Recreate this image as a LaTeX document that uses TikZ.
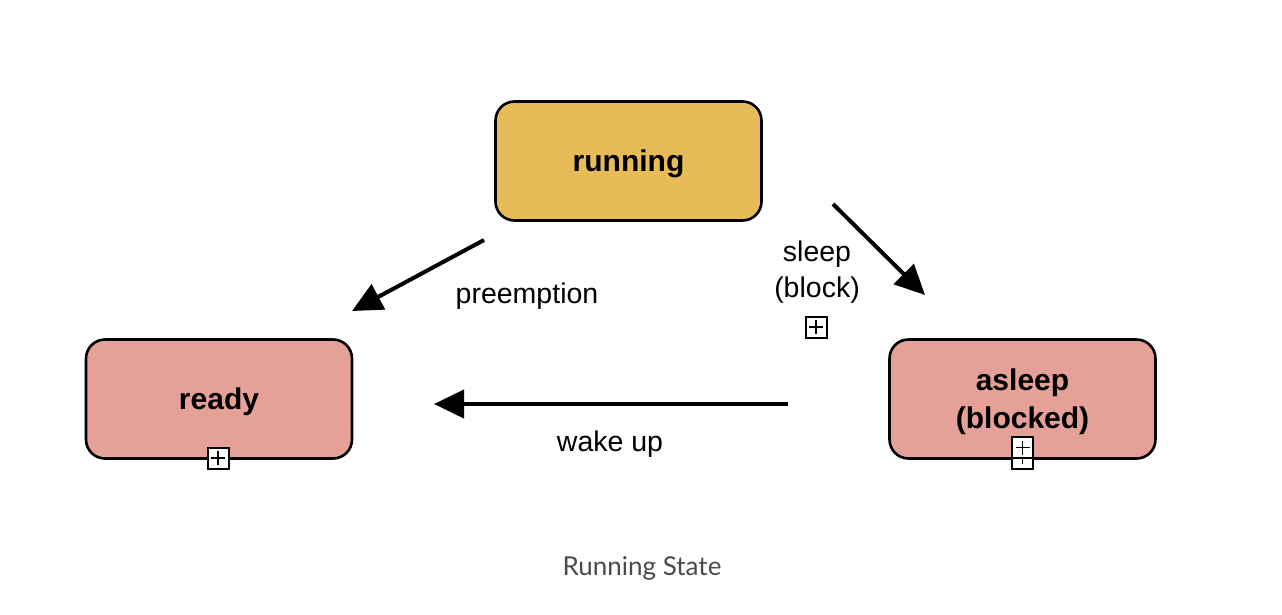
\documentclass[tikz,border=0pt]{standalone}
\usepackage{fontspec}
\setmainfont{Liberation Sans}
\newfontfamily\captionfont{Lato}
\usetikzlibrary{arrows.meta}
\definecolor{runfill}{HTML}{E6BB58}
\definecolor{statefill}{HTML}{E5A097}
\definecolor{capgray}{HTML}{4A4A4A}
\tikzset{
  statebox/.style={draw=black, line width=2.6pt, rounded corners=19pt, minimum width=266pt, minimum height=119pt, align=center, font=\fontsize{30}{38}\selectfont\bfseries, inner sep=0pt},
  oneline/.style={text height=28pt},
  conn/.style={line width=4pt, -{Triangle[length=30pt,width=28pt]}},
  lbl/.style={font=\fontsize{28.5}{36}\selectfont, align=center, inner sep=0pt},
  plusbox/.style={draw=black, line width=2pt, minimum size=21pt, inner sep=0pt, fill=white},
  plusarm/.style={line width=1.8pt},
}
\begin{document}
\begin{tikzpicture}[x=1pt,y=-1pt]
\useasboundingbox (0,0) rectangle (1282,614);
\node[statebox, oneline, fill=runfill] (running) at (628.5,161) {running};
\node[statebox, oneline, fill=statefill] (ready) at (219,399) {ready};
\node[statebox, fill=statefill] (asleep) at (1022.5,399) {\rule{0pt}{28pt}asleep\\(blocked)};

\coordinate (pA) at (484,240);
\coordinate (pB) at (352,311);
\coordinate (sA) at (833,204);
\coordinate (sB) at (925,295);
\coordinate (wA) at (788,404);
\coordinate (wB) at (434,404);
\draw[conn] (pA) -- (pB);
\draw[conn] (sA) -- (sB);
\draw[conn] (wA) -- (wB);

\node[lbl] (lpre) at (527,296) {preemption};
\node[lbl] (lsleep) at (817,272) {sleep\\(block)};
\node[lbl] (lwake) at (610,444) {wake up};

\node[plusbox] (pl1) at (816,327) {};
\draw[plusarm] ([yshift=-7pt]pl1.center) -- ([yshift=7pt]pl1.center) ([xshift=-7pt]pl1.center) -- ([xshift=7pt]pl1.center);
\node[plusbox] (pl2) at (218,458) {};
\draw[plusarm] ([yshift=-7pt]pl2.center) -- ([yshift=7pt]pl2.center) ([xshift=-7pt]pl2.center) -- ([xshift=7pt]pl2.center);
\node[plusbox, minimum height=12pt, minimum width=21pt] (pl4) at (1022.5,463) {};
\draw[plusarm] (pl4.north) -- ([yshift=-1pt]pl4.center);
\node[plusbox] (pl3) at (1022.5,447.5) {};
\draw[plusarm] ([yshift=-7pt]pl3.center) -- ([yshift=7pt]pl3.center) ([xshift=-7pt]pl3.center) -- ([xshift=7pt]pl3.center);

\node[font=\captionfont\fontsize{26}{30}\selectfont, text=capgray, inner sep=0pt] (cap) at (642,568) {Running State};
\end{tikzpicture}
\end{document}
